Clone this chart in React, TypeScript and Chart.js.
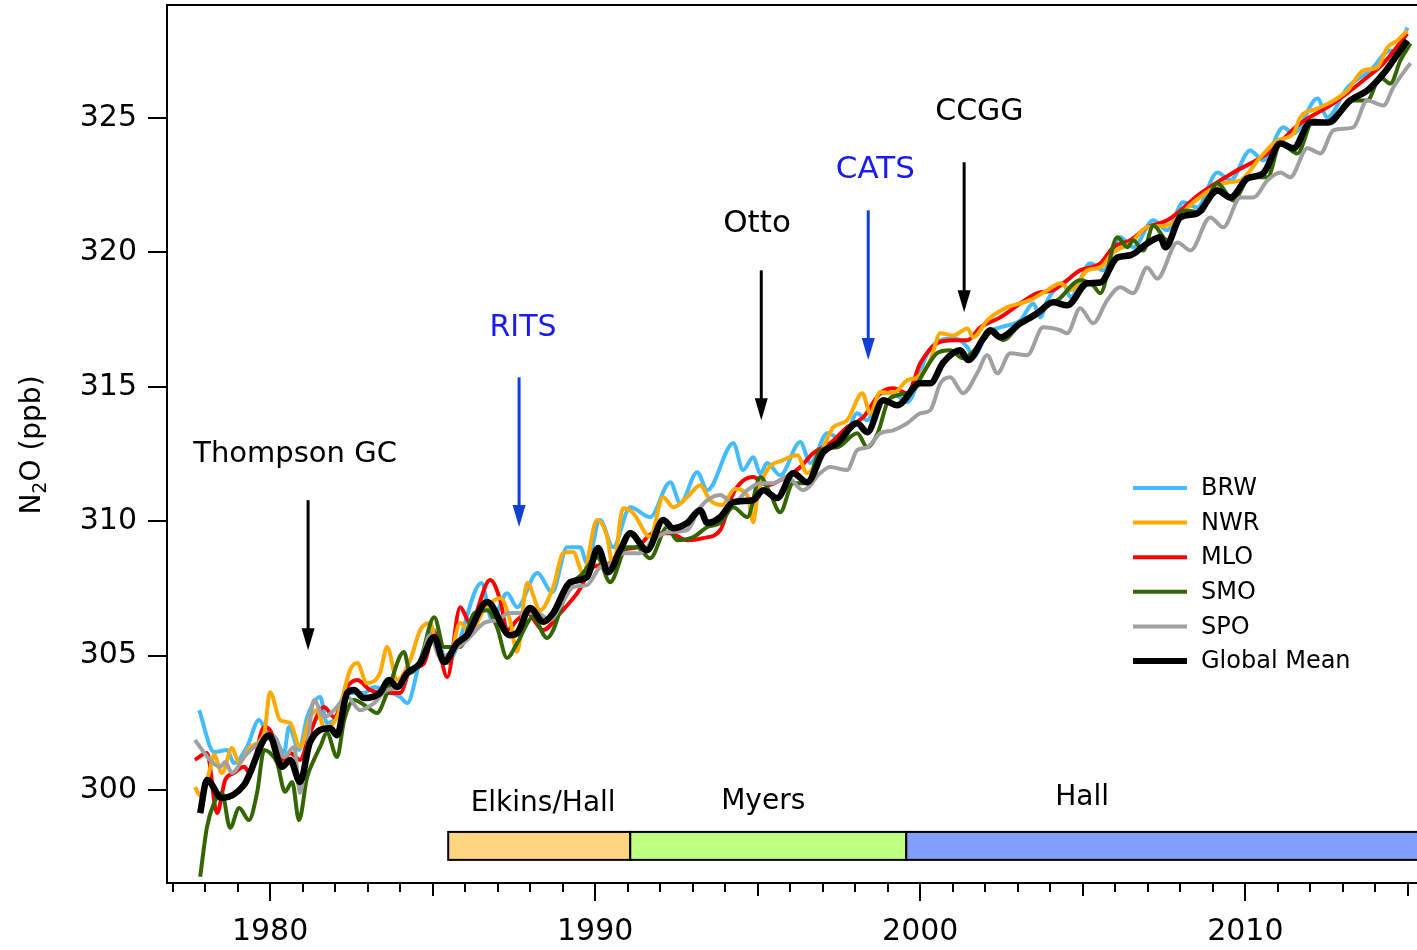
import React, { useEffect, useRef } from "react";
import { Chart, registerables } from "chart.js";
Chart.register(...registerables);

const FONT = '"DejaVu Sans", "Liberation Sans", sans-serif';

// ---------- DATA ----------
const BRW_YEARS = [1977.82,1978.28,1978.68,1978.89,1979.29,1979.66,1979.91,1980.15,1980.43,1980.58,1980.89,1981.14,1981.54,1981.75,1982.06,1982.46,1982.89,1983.2,1983.51,1984.0,1984.22,1984.62,1985.05,1985.45,1985.75,1986.5,1986.83,1987.29,1987.6,1988.22,1988.68,1989.14,1989.54,1989.75,1990.15,1990.55,1991.08,1991.69,1992.31,1992.62,1993.14,1993.45,1994.25,1994.55,1994.86,1995.08,1995.29,1995.69,1996.31,1996.62,1997.14,1997.63,1998.06,1998.37,1998.77,1999.17,1999.6,2000.22,2000.62,2001.02,2001.45,2001.63,2002.06,2002.46,2003.08,2003.48,2003.69,2003.91,2004.4,2004.62,2005.23,2005.63,2006.15,2006.55,2007.17,2007.6,2008.09,2008.52,2009.14,2009.54,2010.15,2010.55,2011.17,2011.48,2012.22,2012.52,2013.14,2013.85,2014.46,2014.68,2014.98];
const BRW_VALUES = [302.97,301.41,301.49,301.0,301.6,302.6,302.12,301.97,301.38,302.34,301.49,302.71,303.46,302.49,302.71,303.61,303.61,303.83,303.72,303.46,303.23,304.83,305.95,304.72,305.32,307.7,306.32,307.32,306.8,308.07,307.36,309.03,309.03,308.44,310.04,309.03,310.52,310.15,311.45,310.67,311.82,311.15,312.9,311.9,312.38,311.78,312.16,311.71,312.94,312.16,313.27,313.01,314.01,313.75,314.76,314.76,314.42,316.25,316.73,316.8,316.47,316.1,316.99,317.21,317.47,318.1,317.58,318.22,318.85,318.33,319.59,319.33,320.56,320.19,321.19,320.82,321.86,321.67,322.97,322.68,323.79,323.42,324.65,324.42,325.72,325.02,326.13,326.77,327.51,327.4,328.36];

const NWR_YEARS = [1977.69,1977.85,1978.12,1978.28,1978.52,1978.83,1979.05,1979.38,1979.82,1980.0,1980.31,1980.62,1980.92,1981.23,1981.45,1981.66,1982.06,1982.46,1982.68,1982.98,1983.38,1983.6,1983.91,1984.31,1984.62,1984.92,1985.2,1985.5,1985.85,1986.15,1986.58,1987.08,1987.38,1987.6,1987.91,1988.31,1988.71,1989.02,1989.32,1989.63,1990.06,1990.37,1990.55,1990.86,1991.17,1991.69,1992.09,1992.4,1992.83,1993.23,1993.54,1993.9,1994.3,1994.7,1994.86,1995.0,1995.29,1995.78,1996.22,1996.52,1997.02,1997.32,1997.75,1998.22,1998.46,1998.77,1999.17,1999.6,1999.91,2000.31,2000.62,2001.02,2001.45,2001.63,2002.06,2002.68,2003.08,2003.38,2003.91,2004.31,2004.62,2005.14,2005.54,2005.94,2006.46,2006.98,2007.6,2008.4,2009.32,2009.85,2010.46,2010.98,2011.48,2011.69,2012.22,2012.62,2013.14,2013.63,2014.06,2014.37,2014.68,2014.98];
const NWR_VALUES = [300.11,299.8,300.63,301.3,300.63,301.56,301.0,301.6,302.12,303.64,302.6,302.49,301.6,302.71,302.97,302.34,302.71,304.46,304.72,303.98,304.35,305.32,304.09,304.83,305.95,306.21,305.0,304.9,306.21,305.84,306.69,307.14,306.32,305.13,307.7,306.69,307.55,308.81,308.85,308.07,310.04,309.41,308.29,310.48,310.3,309.41,310.89,310.52,310.89,311.34,310.78,310.6,311.2,310.9,309.96,311.0,311.9,312.27,312.45,311.78,312.75,313.49,313.75,314.76,314.01,314.8,314.76,315.24,315.35,315.99,316.99,316.91,317.17,316.84,317.47,317.96,318.1,318.22,318.59,318.85,318.59,319.33,319.44,320.0,320.33,320.93,321.0,321.86,322.57,322.68,323.53,324.16,324.42,325.02,325.35,325.58,326.02,326.77,326.88,327.62,327.88,328.25];

const MLO_YEARS = [1977.69,1978.06,1978.37,1978.62,1978.89,1979.2,1979.38,1979.82,1980.0,1980.37,1980.62,1980.92,1981.23,1981.66,1981.97,1982.37,1982.68,1983.08,1983.51,1984.0,1984.31,1984.74,1985.05,1985.45,1985.85,1986.15,1986.77,1987.08,1987.29,1987.6,1987.91,1988.4,1988.92,1989.45,1989.94,1990.46,1990.77,1991.29,1991.78,1992.31,1992.83,1993.32,1993.85,1994.25,1994.86,1995.29,1995.69,1996.31,1996.71,1997.23,1997.75,1998.25,1998.77,1999.17,1999.6,2000.0,2000.52,2001.02,2001.45,2001.85,2002.46,2003.08,2003.6,2004.09,2004.4,2004.92,2005.54,2005.94,2006.46,2006.98,2007.6,2008.62,2009.63,2010.68,2011.69,2012.71,2013.75,2014.25,2014.98];
const MLO_VALUES = [301.12,301.38,299.14,300.37,300.63,300.86,300.63,302.34,302.23,301.12,301.38,301.12,302.12,303.09,302.71,303.83,304.09,303.72,303.61,303.61,304.46,304.72,305.87,304.2,306.8,306.21,307.81,307.06,305.95,306.32,306.58,305.95,306.58,307.32,308.29,308.44,308.92,309.03,309.55,309.55,309.29,309.37,309.67,311.04,311.64,311.34,311.52,312.01,312.53,312.9,313.49,313.87,314.76,314.94,314.76,315.87,316.62,316.73,316.73,317.21,317.58,318.1,318.48,318.59,318.85,319.33,319.59,320.19,320.45,320.93,321.19,322.19,322.97,323.68,324.8,325.54,326.51,327.03,328.14];

const SMO_YEARS = [1977.85,1978.06,1978.28,1978.52,1978.77,1979.05,1979.35,1979.6,1979.82,1980.0,1980.22,1980.46,1980.68,1980.89,1981.14,1981.35,1981.54,1981.75,1982.06,1982.28,1982.58,1982.98,1983.29,1983.6,1984.12,1984.31,1984.62,1985.05,1985.35,1985.85,1986.28,1986.68,1986.98,1987.29,1987.6,1988.09,1988.52,1988.71,1989.14,1989.63,1990.06,1990.46,1990.98,1991.29,1991.69,1992.22,1992.52,1993.02,1993.45,1993.85,1994.25,1994.68,1995.08,1995.38,1995.69,1996.09,1996.52,1996.92,1997.45,1998.06,1998.37,1998.7,1999.0,1999.29,1999.78,2000.09,2000.52,2000.92,2001.32,2001.94,2002.25,2002.55,2003.08,2003.48,2003.91,2004.22,2004.92,2005.32,2005.54,2006.06,2006.37,2006.55,2006.86,2007.17,2007.6,2008.09,2008.62,2009.14,2009.63,2010.15,2010.68,2011.08,2011.6,2012.09,2012.62,2013.23,2013.75,2014.15,2014.46,2014.77,2015.08];
const SMO_VALUES = [296.77,298.62,299.52,299.89,298.59,299.33,298.88,299.89,301.49,301.38,301.0,299.93,300.3,298.88,300.48,301.12,301.6,302.12,301.23,302.6,303.35,303.09,302.86,303.61,305.13,304.35,304.83,306.43,305.32,305.32,306.58,306.69,306.06,304.91,305.46,306.43,305.65,305.95,307.43,308.07,308.66,307.73,309.03,309.03,308.62,309.78,309.29,309.41,309.78,309.93,310.52,310.15,311.64,311.04,310.33,311.41,311.41,312.64,312.75,313.27,312.75,313.3,314.45,314.68,314.87,315.5,316.25,316.36,316.06,316.73,317.1,316.73,317.36,317.58,318.1,318.22,318.96,318.77,318.48,320.56,320.19,320.45,320.07,321.0,320.45,321.56,321.49,322.57,321.93,322.79,322.79,324.05,323.68,324.91,324.8,325.65,325.65,326.51,326.28,327.14,327.77];

const SPO_YEARS = [1977.69,1978.15,1978.46,1978.62,1978.83,1979.2,1979.51,1979.82,1980.12,1980.43,1980.74,1980.92,1981.14,1981.35,1981.66,1981.97,1982.37,1982.77,1983.2,1983.6,1984.0,1984.31,1984.62,1984.92,1985.23,1985.66,1986.06,1986.58,1986.98,1987.38,1988.22,1988.62,1988.92,1989.32,1989.75,1990.15,1990.55,1990.86,1991.38,1991.78,1992.22,1992.83,1993.23,1993.85,1994.25,1994.68,1995.08,1995.48,1995.91,1996.4,1996.92,1997.23,1997.75,1998.06,1998.37,1998.77,1999.17,1999.6,2000.0,2000.31,2000.62,2000.92,2001.32,2001.75,2002.06,2002.37,2002.77,2003.29,2003.78,2004.31,2004.52,2004.92,2005.32,2005.75,2006.15,2006.55,2006.98,2007.29,2007.91,2008.31,2008.92,2009.32,2009.85,2010.25,2010.68,2011.08,2011.38,2011.91,2012.31,2012.71,2013.32,2013.75,2014.25,2014.55,2014.98,2015.08];
const SPO_VALUES = [301.86,301.12,300.86,301.04,300.63,301.23,301.6,301.86,301.97,301.23,301.6,299.89,301.6,303.35,302.71,302.97,303.46,302.97,303.23,303.72,303.83,304.46,304.72,305.76,304.94,305.2,305.58,306.21,306.32,306.58,306.58,306.32,306.8,307.55,307.62,308.29,308.44,308.81,308.81,309.29,309.59,309.67,310.52,310.97,310.67,311.15,311.41,311.41,311.64,311.15,311.78,312.01,311.9,312.64,312.75,313.27,313.38,313.64,314.01,314.13,315.13,315.35,314.76,315.5,316.17,315.5,316.25,316.17,317.21,317.1,316.99,317.92,317.36,318.22,318.7,318.48,319.44,319.02,320.37,320.07,321.3,320.93,322.04,322.04,322.68,322.97,322.79,323.87,323.68,324.54,324.65,325.65,325.46,326.13,326.88,327.03];

const MEAN_YEARS = [1977.85,1978.06,1978.52,1979.2,1979.97,1980.37,1980.62,1980.92,1981.23,1981.85,1982.06,1982.37,1982.58,1982.89,1983.38,1983.66,1983.91,1984.22,1984.62,1985.05,1985.35,1985.75,1986.06,1986.68,1987.38,1987.6,1988.0,1988.4,1988.71,1989.23,1989.75,1990.09,1990.4,1990.77,1991.08,1991.6,1992.09,1992.4,1992.83,1993.23,1993.45,1993.85,1994.25,1994.86,1995.17,1995.6,1996.09,1996.52,1997.02,1997.45,1998.06,1998.37,1998.86,1999.29,2000.0,2000.31,2000.71,2001.23,2001.48,2001.94,2002.15,2002.46,2003.08,2003.6,2004.09,2004.52,2005.14,2005.54,2006.06,2006.46,2006.98,2007.38,2007.54,2008.0,2008.52,2009.14,2009.54,2010.06,2010.55,2011.08,2011.48,2012.0,2012.52,2013.23,2013.75,2014.25,2014.55,2014.98];
const MEAN_VALUES = [299.14,300.37,299.7,300.19,302.04,300.86,301.12,300.3,301.78,302.3,302.04,303.61,303.72,303.42,303.61,304.09,303.83,304.35,304.72,305.69,304.76,305.46,305.76,306.99,305.76,305.84,306.77,306.25,306.58,307.73,307.92,309.0,308.1,308.92,309.55,308.92,310.04,309.74,309.93,310.41,309.93,310.15,310.71,310.78,311.15,310.86,311.78,311.45,312.57,312.9,313.64,313.31,314.5,314.31,315.13,315.13,315.91,316.36,315.99,316.8,317.1,316.84,317.36,317.73,318.14,318.03,318.85,318.88,319.81,319.89,320.33,320.56,320.19,321.3,321.45,322.3,322.04,322.75,322.94,324.05,323.87,324.83,324.83,325.65,326.02,326.65,327.14,327.88];

const X_LABEL_TICKS = [1980, 1990, 2000, 2010];
const Y_TICKS = [300, 305, 310, 315, 320, 325];

// annotation arrows (data coordinates)
const ANNOT_LABELS = ["Thompson GC", "RITS", "Otto", "CATS", "CCGG"];
const ANNOT_TEXT_X = [1980.77, 1987.78, 1994.98, 1998.62, 2001.82];
const ANNOT_TEXT_Y = [312.49, 317.17, 321.04, 323.05, 325.2];
const ARROW_X = [1981.17, 1987.66, 1995.11, 1998.4, 2001.35];
const ARROW_FROM = [310.78, 315.35, 319.33, 321.56, 323.35];
const ARROW_TO = [305.2, 309.78, 313.75, 315.99, 317.77];

// instrument periods
const PERIOD_LABELS = ["Elkins/Hall", "Myers", "Hall"];
const PERIOD_START = [1985.48, 1991.08, 1999.57];
const PERIOD_END = [1991.08, 1999.57, 2016.0];
const PERIOD_LABEL_X = [1988.4, 1995.17, 2004.98];
const PERIOD_LABEL_Y = [299.48, 299.55, 299.7];

// ---------- STYLE ----------
const X_MIN = 1976.83, X_MAX = 2015.28;
const Y_MIN = 296.54, Y_MAX = 329.2;
const BAR_LOW = 297.4, BAR_HIGH = 298.44;
const PERIOD_COLORS = ["#FFD580", "#BFFF80", "#809FFF"];
const ANNOT_TEXT_COLORS = ["#000", "#1a1aee", "#000", "#1a1aee", "#000"];
const ANNOT_ARROW_COLORS = ["#000", "#0f3fd6", "#000", "#0f3fd6", "#000"];
const ANNOT_FONT_SIZES = [29, 30, 31, 31, 30];

function pts(xs: number[], ys: number[]) {
  return xs.map((x, i) => ({ x, y: ys[i] }));
}

const SERIES = [
  { label: "BRW", xs: BRW_YEARS, ys: BRW_VALUES, color: "#44BBFF", width: 4, order: 6 },
  { label: "NWR", xs: NWR_YEARS, ys: NWR_VALUES, color: "#FFAA00", width: 4, order: 4 },
  { label: "MLO", xs: MLO_YEARS, ys: MLO_VALUES, color: "#FF0000", width: 4, order: 5 },
  { label: "SMO", xs: SMO_YEARS, ys: SMO_VALUES, color: "#336600", width: 4, order: 3 },
  { label: "SPO", xs: SPO_YEARS, ys: SPO_VALUES, color: "#A0A0A0", width: 4, order: 2 },
  { label: "Global Mean", xs: MEAN_YEARS, ys: MEAN_VALUES, color: "#000000", width: 6.5, order: 1 },
];

const overlayPlugin = {
  id: "overlay",
  beforeDatasetsDraw(chart: any) {
    const { ctx, chartArea, scales } = chart;
    const xs = scales.x, ys = scales.y;
    ctx.save();
    ctx.beginPath();
    ctx.rect(chartArea.left, chartArea.top, chartArea.right - chartArea.left, chartArea.bottom - chartArea.top);
    ctx.clip();
    const yTop = ys.getPixelForValue(BAR_HIGH);
    const yBot = ys.getPixelForValue(BAR_LOW);
    PERIOD_LABELS.forEach((_, i) => {
      const x0 = xs.getPixelForValue(PERIOD_START[i]);
      const x1 = xs.getPixelForValue(PERIOD_END[i]);
      ctx.fillStyle = PERIOD_COLORS[i];
      ctx.fillRect(x0, yTop, x1 - x0, yBot - yTop);
      ctx.strokeStyle = "#000";
      ctx.lineWidth = 2;
      ctx.strokeRect(x0, yTop, x1 - x0, yBot - yTop);
    });
    ctx.restore();
    ctx.save();
    ctx.fillStyle = "#000";
    ctx.font = `28px ${FONT}`;
    ctx.textAlign = "center";
    ctx.textBaseline = "middle";
    PERIOD_LABELS.forEach((lab, i) => {
      ctx.fillText(lab, xs.getPixelForValue(PERIOD_LABEL_X[i]), ys.getPixelForValue(PERIOD_LABEL_Y[i]));
    });
    ctx.restore();
  },
  afterDraw(chart: any) {
    const { ctx, chartArea, scales } = chart;
    const xs = scales.x, ys = scales.y;
    ctx.save();
    // frame
    ctx.strokeStyle = "#000";
    ctx.lineWidth = 2;
    ctx.beginPath();
    ctx.moveTo(chartArea.right + 2, chartArea.top);
    ctx.lineTo(chartArea.left, chartArea.top);
    ctx.lineTo(chartArea.left, chartArea.bottom);
    ctx.lineTo(chartArea.right + 2, chartArea.bottom);
    ctx.stroke();
    // y ticks
    Y_TICKS.forEach((v) => {
      const y = Math.round(ys.getPixelForValue(v));
      ctx.beginPath();
      ctx.moveTo(chartArea.left - 19, y);
      ctx.lineTo(chartArea.left, y);
      ctx.stroke();
    });
    // x ticks
    for (let yr = Math.ceil(X_MIN); yr <= Math.floor(X_MAX); yr++) {
      const x = Math.round(xs.getPixelForValue(yr));
      const len = yr % 10 === 0 ? 18 : yr % 5 === 0 ? 13 : 9;
      ctx.beginPath();
      ctx.moveTo(x, chartArea.bottom);
      ctx.lineTo(x, chartArea.bottom + len);
      ctx.stroke();
    }
    // annotations
    ANNOT_LABELS.forEach((lab, i) => {
      ctx.fillStyle = ANNOT_TEXT_COLORS[i];
      ctx.font = `${ANNOT_FONT_SIZES[i]}px ${FONT}`;
      ctx.textAlign = "center";
      ctx.textBaseline = "middle";
      ctx.fillText(lab, xs.getPixelForValue(ANNOT_TEXT_X[i]), ys.getPixelForValue(ANNOT_TEXT_Y[i]));
      const x = xs.getPixelForValue(ARROW_X[i]);
      const y0 = ys.getPixelForValue(ARROW_FROM[i]);
      const y1 = ys.getPixelForValue(ARROW_TO[i]);
      const head = 22;
      ctx.strokeStyle = ANNOT_ARROW_COLORS[i];
      ctx.fillStyle = ANNOT_ARROW_COLORS[i];
      ctx.lineWidth = 3;
      ctx.beginPath();
      ctx.moveTo(x, y0);
      ctx.lineTo(x, y1 - head + 2);
      ctx.stroke();
      ctx.beginPath();
      ctx.moveTo(x, y1);
      ctx.lineTo(x - 6.5, y1 - head);
      ctx.lineTo(x + 6.5, y1 - head);
      ctx.closePath();
      ctx.fill();
    });
    // legend
    const lx0 = 1133, lx1 = 1187, ly0 = 488, dy = 34.6;
    SERIES.forEach((s, i) => {
      const y = ly0 + i * dy;
      ctx.strokeStyle = s.color;
      ctx.lineWidth = s.label === "Global Mean" ? 6 : 4;
      ctx.beginPath();
      ctx.moveTo(lx0, y);
      ctx.lineTo(lx1, y);
      ctx.stroke();
      ctx.fillStyle = "#000";
      ctx.font = `24px ${FONT}`;
      ctx.textAlign = "left";
      ctx.textBaseline = "middle";
      ctx.fillText(s.label, 1201, y + 1);
    });
    // y axis title
    ctx.save();
    ctx.translate(30, 445);
    ctx.rotate(-Math.PI / 2);
    ctx.fillStyle = "#000";
    ctx.textBaseline = "alphabetic";
    ctx.textAlign = "left";
    const mainFont = `28px ${FONT}`;
    const subFont = `19px ${FONT}`;
    ctx.font = mainFont;
    const wN = ctx.measureText("N").width;
    const wRest = ctx.measureText("O (ppb)").width;
    ctx.font = subFont;
    const w2 = ctx.measureText("2").width;
    const total = wN + w2 + wRest;
    let cx = -total / 2;
    ctx.font = mainFont;
    ctx.fillText("N", cx, 10);
    cx += wN;
    ctx.font = subFont;
    ctx.fillText("2", cx, 16);
    cx += w2;
    ctx.font = mainFont;
    ctx.fillText("O (ppb)", cx, 10);
    ctx.restore();
    ctx.restore();
  },
};

export default function App() {
  const ref = useRef<HTMLCanvasElement>(null);
  useEffect(() => {
    const canvas = ref.current!;
    const chart = new Chart(canvas, {
      type: "line",
      data: {
        datasets: SERIES.map((s) => ({
          label: s.label,
          data: pts(s.xs, s.ys),
          borderColor: s.color,
          backgroundColor: s.color,
          borderWidth: s.width,
          pointRadius: 0,
          cubicInterpolationMode: "monotone" as const,
          fill: false,
          order: s.order,
        })),
      },
      options: {
        responsive: false,
        animation: false,
        devicePixelRatio: 1,
        layout: { padding: { top: 5, left: 0, right: 0, bottom: 0 }, autoPadding: false },
        plugins: { legend: { display: false }, tooltip: { enabled: false }, title: { display: false } },
        events: [],
        scales: {
          x: {
            type: "linear",
            min: X_MIN,
            max: X_MAX,
            afterFit: (s: any) => { s.height = 67; s.paddingLeft = 0; s.paddingRight = 0; s.paddingTop = 0; s.paddingBottom = 0; },
            afterBuildTicks: (s: any) => { s.ticks = X_LABEL_TICKS.map((v) => ({ value: v })); },
            grid: { display: false, drawTicks: false },
            border: { display: false },
            ticks: {
              autoSkip: false,
              maxRotation: 0,
              padding: 31,
              color: "#000",
              font: { family: FONT, size: 30 },
              callback: (v: any) => String(v),
            },
          },
          y: {
            type: "linear",
            min: Y_MIN,
            max: Y_MAX,
            afterFit: (s: any) => { s.width = 167; s.paddingLeft = 0; s.paddingRight = 0; s.paddingTop = 0; s.paddingBottom = 0; },
            afterBuildTicks: (s: any) => { s.ticks = Y_TICKS.map((v) => ({ value: v })); },
            grid: { display: false, drawTicks: false },
            border: { display: false },
            ticks: {
              autoSkip: false,
              padding: 30,
              color: "#000",
              font: { family: FONT, size: 30 },
              callback: (v: any) => String(v),
            },
          },
        },
      },
      plugins: [overlayPlugin],
    });
    return () => chart.destroy();
  }, []);
  return (
    <div style={{ position: "fixed", left: 0, top: 0, width: 1417, height: 950, background: "#fff", overflow: "hidden" }}>
      <canvas ref={ref} width={1417} height={950} style={{ width: 1417, height: 950, display: "block" }} />
    </div>
  );
}
